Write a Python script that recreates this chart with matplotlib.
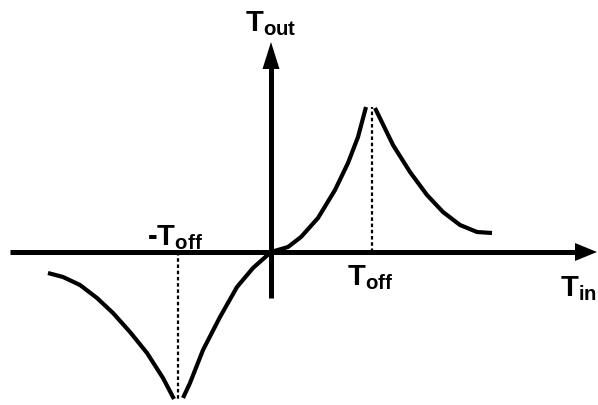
import matplotlib
matplotlib.use("Agg")
import matplotlib.pyplot as plt

plt.rcParams['font.family'] = ['Liberation Sans', 'DejaVu Sans']
plt.rcParams['mathtext.fontset'] = 'custom'
plt.rcParams['mathtext.rm'] = 'Liberation Sans:bold'
plt.rcParams['mathtext.bf'] = 'Liberation Sans:bold'

# curve branches (x = T_in, y = T_out), origin at the axes crossing
sube_der_x = [0, 17, 30, 47, 64, 77, 87, 95]
sube_der_y = [0, 5, 15, 34, 62, 89, 115, 145]

baja_der_x = [104, 122, 139, 156, 172, 189, 206, 221]
baja_der_y = [144, 107, 80, 57, 40, 27, 20, 19]

sube_izq_x = [-88, -81, -68, -51, -34, -18, 0]
sube_izq_y = [-146, -131, -98, -65, -35, -16, 0]

baja_izq_x = [-223, -208, -191, -174, -158, -141, -124, -108, -97]
baja_izq_y = [-21, -25, -33, -46, -61, -80, -101, -126, -147]

t_off = 101
t_off_neg = -93
pico = 145
valle = -148

fig = plt.figure(figsize=(5.98, 4.05), dpi=100)
ax = fig.add_axes([0, 0, 1, 1])
ax.set_xlim(-271, 327)
ax.set_ylim(-153, 252)
ax.axis('off')

# ejes con flecha
ax.plot([-261, 310], [0, 0], color='k', lw=3.6, solid_capstyle='butt')
ax.arrow(300, 0, 26, 0, width=0, head_width=18, head_length=22,
         length_includes_head=True, fc='k', ec='k', lw=0)
ax.plot([0, 0], [-46, 190], color='k', lw=3.6, solid_capstyle='butt')
ax.arrow(0, 180, 0, 30, width=0, head_width=17, head_length=27,
         length_includes_head=True, fc='k', ec='k', lw=0)

# curvas
for xs, ys in [(sube_der_x, sube_der_y), (baja_der_x, baja_der_y),
               (sube_izq_x, sube_izq_y), (baja_izq_x, baja_izq_y)]:
    ax.plot(xs, ys, color='k', lw=3, solid_capstyle='butt', solid_joinstyle='round')

# lineas punteadas
ax.plot([t_off, t_off], [0, pico], color='k', lw=1.6, linestyle=(0, (1.6, 1.2)))
ax.plot([t_off_neg, t_off_neg], [0, valle], color='k', lw=1.6, linestyle=(0, (1.6, 1.2)))

fs = 21
ax.text(-26, 221, r'$\mathbf{T}_{\mathbf{out}}$', fontsize=fs, ha='left', va='baseline')
ax.text(-124, 7, r'-$\mathbf{T}_{\mathbf{off}}$', fontsize=fs, weight='bold', ha='left', va='baseline')
ax.text(76, -33, r'$\mathbf{T}_{\mathbf{off}}$', fontsize=fs, ha='left', va='baseline')
ax.text(289, -44, r'$\mathbf{T}_{\mathbf{in}}$', fontsize=fs, ha='left', va='baseline')

fig.savefig('out.png', dpi=100)
